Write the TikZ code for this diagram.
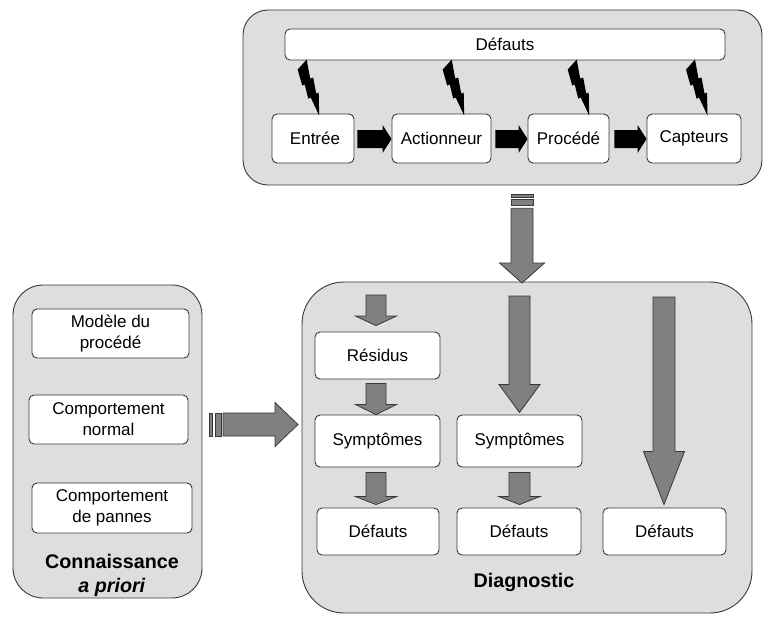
\documentclass[tikz,border=0pt]{standalone}
\usepackage{fontspec}
\setmainfont{Liberation Sans}
\usetikzlibrary{calc}
\definecolor{panel}{gray}{0.87}
\definecolor{garr}{gray}{0.5}
\definecolor{edge}{gray}{0.22}
\tikzset{
  panelbox/.style={draw=edge, fill=panel, line width=0.9pt, inner sep=0pt},
  wbox/.style={draw=edge, fill=white, line width=0.9pt, rounded corners=5pt, inner sep=0pt, align=center, font=\fontsize{17}{21}\selectfont},
  garrow/.style={draw=edge, fill=garr, line width=0.8pt, line join=miter},
  karrow/.style={fill=black},
  boltshape/.style={fill=black},
  paneltitle/.style={font=\fontsize{19.7}{24}\selectfont\bfseries, align=center}
}
% vertical block arrow: #2 start, #3 tip, #4 body half, #5 head half, #6 head length
\newcommand{\vblk}[6][garrow]{\path[#1] let \p1=(#2), \p2=(#3) in
  (\x2-#4pt,\y1) -- (\x2+#4pt,\y1) -- (\x2+#4pt,\y2+#6pt) -- (\x2+#5pt,\y2+#6pt) -- (\x2,\y2)
  -- (\x2-#5pt,\y2+#6pt) -- (\x2-#4pt,\y2+#6pt) -- cycle;}
% horizontal block arrow
\newcommand{\hblk}[6][garrow]{\path[#1] let \p1=(#2), \p2=(#3) in
  (\x1,\y2+#4pt) -- (\x2-#6pt,\y2+#4pt) -- (\x2-#6pt,\y2+#5pt) -- (\x2,\y2)
  -- (\x2-#6pt,\y2-#5pt) -- (\x2-#6pt,\y2-#4pt) -- (\x1,\y2-#4pt) -- cycle;}
\newcommand{\boltat}[1]{\fill[boltshape, shift={(#1)}] (0,0) -- (3.5,19) -- (6.5,18) -- (9.5,34) -- (12,33)
  -- (12.5,56) -- (4,38) -- (1.5,39) -- (-2,25) -- (-4.5,26) -- (-9,10) -- cycle;}
\begin{document}
\begin{tikzpicture}[x=1pt, y=-1pt]
\useasboundingbox (0,0) rectangle (781,616);
% ---------- top panel ----------
\node[panelbox, rounded corners=25pt, minimum width=519pt, minimum height=175pt] (top) at (502.5,97.5) {};
\node[wbox, minimum width=440pt, minimum height=31pt] (bar) at (505,44.5) {Défauts};
\node[wbox, minimum width=82pt, minimum height=49pt] (entree) at (313,138.5) {\hspace*{4pt}Entrée};
\node[wbox, minimum width=99pt, minimum height=49pt] (act) at (441.5,138.5) {Actionneur};
\node[wbox, minimum width=81pt, minimum height=49pt] (proc) at (568.5,138.5) {Procédé};
\node[wbox, minimum width=94pt, minimum height=49pt] (capt) at (694,138.5) {Capteurs};
\hblk[karrow]{$(entree.east)+(3,0)$}{$(act.west)+(0,0.5)$}{9}{14}{9}
\hblk[karrow]{$(act.east)+(4,0)$}{$(proc.west)+(0,0.5)$}{9}{14}{9}
\hblk[karrow]{$(proc.east)+(5,0)$}{$(capt.west)+(0,0.5)$}{9}{14}{9}
\boltat{$(entree.north)+(-6.3,-54)$}
\boltat{$(act.north)+(10.2,-54)$}
\boltat{$(proc.north)+(8.2,-54)$}
\boltat{$(capt.north)+(1,-54)$}
% ---------- left panel ----------
\node[panelbox, rounded corners=30pt, minimum width=189pt, minimum height=313pt] (know) at (107.5,441.5) {};
\node[wbox, minimum width=157pt, minimum height=49pt] (model) at (110.5,333.5) {Modèle du\\procédé};
\node[wbox, minimum width=159pt, minimum height=49pt] (normal) at (108.5,419.5) {Comportement\\normal};
\node[wbox, minimum width=160pt, minimum height=50pt] (pannes) at (112,508) {Comportement\\de pannes};
\node[paneltitle] (knowlabel) at (112,575) {Connaissance\\\textit{a priori}};
% ---------- diagnostic panel ----------
\node[panelbox, rounded corners=42pt, minimum width=450pt, minimum height=331pt] (diag) at (527,447.5) {};
\node[wbox, minimum width=125pt, minimum height=47pt] (res) at (377.5,355.5) {Résidus};
\node[wbox, minimum width=125pt, minimum height=52pt] (sym1) at (377.5,441) {Symptômes};
\node[wbox, minimum width=122pt, minimum height=47pt] (def1) at (378,531.5) {Défauts};
\node[wbox, minimum width=125pt, minimum height=52pt] (sym2) at (519.5,441) {Symptômes};
\node[wbox, minimum width=124pt, minimum height=47pt] (def2) at (519,531.5) {Défauts};
\node[wbox, minimum width=123pt, minimum height=47pt] (def3) at (664.5,531.5) {Défauts};
\node[paneltitle] (diaglabel) at (524,582) {Diagnostic};
% ---------- arrow from top panel to diagnostic ----------
\coordinate (topS) at (522,208.3);
\coordinate (topT) at (522,283);
\draw[garrow] (511.5,194.3) rectangle (533.3,197.3);
\draw[garrow] (511.5,199.3) rectangle (533.3,205);
\vblk{topS}{topT}{11}{22.5}{20}
% ---------- arrow from knowledge to diagnostic ----------
\coordinate (knowS) at (223,424.5);
\coordinate (knowT) at (298,424.5);
\draw[garrow] (209.3,413) rectangle (212.3,436);
\draw[garrow] (215,413) rectangle (221.5,436);
\hblk{knowS}{knowT}{11.5}{22}{23}
% ---------- arrows inside diagnostic ----------
\coordinate (c1s) at (376,295);
\coordinate (c2s) at (519.5,296);
\coordinate (c3s) at (664,297);
\vblk{c1s}{$(res.north)+(-1.5,-6)$}{10}{20.5}{9.5}
\vblk{$(res.south)+(0,4)$}{$(sym1.north)+(-1.5,0)$}{10}{20.5}{10}
\vblk{$(sym1.south)+(0,5)$}{$(def1.north)+(-2,-3)$}{10}{20.5}{8}
\vblk{c2s}{$(sym2.north)+(0,-2)$}{10.5}{20.5}{28}
\vblk{$(sym2.south)+(0,5)$}{$(def2.north)+(0.5,-3)$}{10.5}{20.5}{8}
\vblk{c3s}{$(def3.north)+(-0.5,-3)$}{11}{20.5}{53}
\end{tikzpicture}
\end{document}
